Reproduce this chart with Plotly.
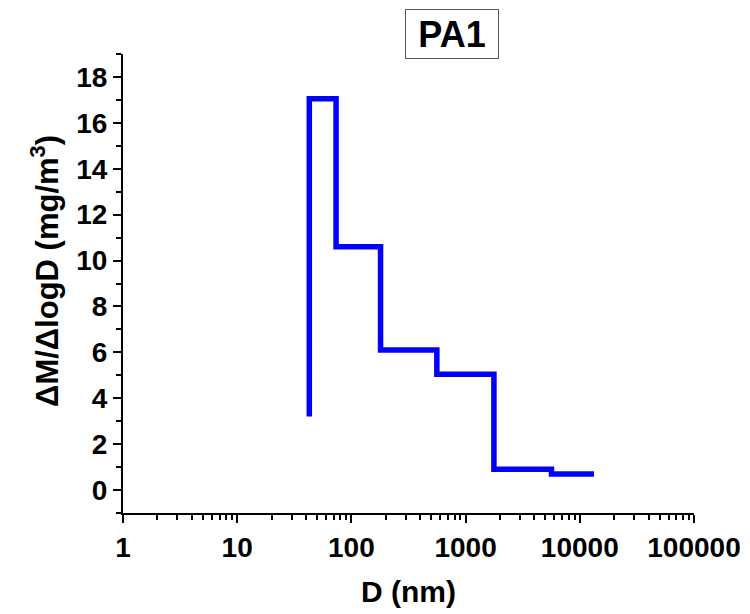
import plotly.graph_objects as go

# bin edges (nm) and dM/dlogD values
d_edges = [42.8, 42.8, 73.4, 180, 560, 1770, 5650, 13300]
dm_dlogd = [3.2, 17.05, 10.6, 6.1, 5.05, 0.91, 0.70, 0.70]

x_ticks = [1, 10, 100, 1000, 10000, 100000]
x_tick_labels = ["1", "10", "100", "1000", "10000", "100000"]

font_family = "Arial, Liberation Sans, sans-serif"

fig = go.Figure(go.Scatter(
    x=d_edges, y=dm_dlogd, mode="lines", line_shape="hv",
    line=dict(color="#0000ff", width=5.5), showlegend=False,
))

axis_common = dict(
    showline=True, linecolor="black", linewidth=2, mirror=False,
    ticks="outside", ticklen=8, tickwidth=2, tickcolor="black",
    showgrid=False, zeroline=False, automargin=False,
    tickfont=dict(family=font_family, size=28, color="black", weight="bold"),
)

fig.update_xaxes(
    type="log", range=[0, 5], tickvals=x_ticks, ticktext=x_tick_labels,
    minor=dict(ticks="outside", ticklen=5, tickwidth=1.5, tickcolor="black", dtick="D1"),
    **axis_common,
)
fig.update_yaxes(
    range=[-1, 19], dtick=2, tick0=0,
    minor=dict(ticks="outside", ticklen=5, tickwidth=1.5, tickcolor="black", dtick=1),
    **axis_common,
)

# axis titles placed as annotations for exact positioning
fig.add_annotation(
    text="D (nm)", xref="paper", yref="paper", x=0.5, y=-0.172,
    xanchor="center", yanchor="middle", showarrow=False,
    font=dict(family=font_family, size=30, color="black", weight="bold"),
)
fig.add_annotation(
    text="ΔM/ΔlogD (mg/m<sup>3</sup>)", xref="paper", yref="paper", x=-0.137, y=0.527,
    xanchor="center", yanchor="middle", showarrow=False, textangle=-90,
    font=dict(family=font_family, size=31, color="black", weight="bold"),
)

fig.add_annotation(
    text="PA1", xref="paper", yref="paper", x=0.577, y=1.043,
    xanchor="center", yanchor="middle", showarrow=False,
    width=88, height=44,
    font=dict(family=font_family, size=36, color="black", weight="bold"),
    bordercolor="#555555", borderwidth=1, borderpad=2, bgcolor="white",
)

# page body adds an 8px margin, so the figure is sized to fit inside the window
fig.update_layout(
    width=742, height=606,
    margin=dict(l=115, r=56, t=46, b=101),
    paper_bgcolor="white", plot_bgcolor="white",
)

fig.write_html("out.html")
